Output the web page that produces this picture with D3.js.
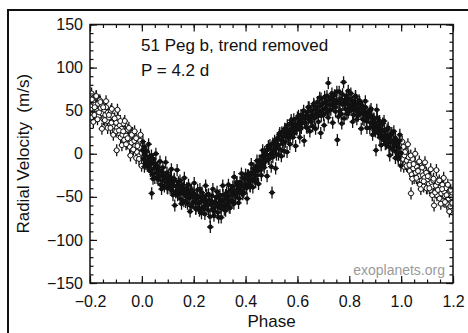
<!DOCTYPE html>
<html>
<head>
<meta charset="utf-8">
<script src="https://cdn.jsdelivr.net/npm/d3@7"></script>
<style>
  body { margin: 0; background: #fff; }
  svg { display: block; }
  text { font-family: "Liberation Sans", Arial, Helvetica, sans-serif; fill: #111; }
</style>
</head>
<body>
<svg id="chart" width="468" height="333"></svg>
<script>
// 51 Peg b radial velocities, folded on the 4.2 d orbital period
const phases = [
  0.002,0.006,0.009,0.013,0.016,0.019,0.022,0.026,0.029,0.033,0.036,0.038,0.041,0.044,0.047,0.050,0.053,0.056,0.060,0.063,
  0.066,0.070,0.073,0.077,0.080,0.084,0.087,0.090,0.094,0.097,0.100,0.104,0.107,0.110,0.114,0.117,0.120,0.127,0.124,0.131,
  0.134,0.138,0.141,0.145,0.148,0.152,0.155,0.159,0.162,0.166,0.169,0.173,0.176,0.180,0.183,0.187,0.190,0.194,0.197,0.201,
  0.204,0.208,0.211,0.215,0.218,0.222,0.225,0.229,0.232,0.236,0.239,0.243,0.246,0.250,0.253,0.257,0.260,0.264,0.267,0.271,
  0.274,0.278,0.281,0.285,0.288,0.292,0.295,0.299,0.302,0.306,0.309,0.313,0.316,0.320,0.323,0.327,0.330,0.334,0.337,0.341,
  0.344,0.348,0.351,0.355,0.358,0.362,0.365,0.369,0.372,0.376,0.379,0.383,0.386,0.390,0.393,0.397,0.400,0.404,0.407,0.411,
  0.414,0.418,0.421,0.425,0.428,0.432,0.435,0.439,0.442,0.446,0.449,0.453,0.456,0.460,0.463,0.467,0.470,0.474,0.477,0.481,
  0.484,0.488,0.491,0.495,0.498,0.502,0.505,0.509,0.512,0.516,0.519,0.523,0.526,0.530,0.533,0.537,0.540,0.544,0.547,0.551,
  0.554,0.558,0.561,0.565,0.568,0.572,0.575,0.579,0.582,0.586,0.589,0.593,0.596,0.600,0.603,0.607,0.610,0.614,0.617,0.621,
  0.624,0.628,0.631,0.635,0.638,0.642,0.645,0.649,0.652,0.656,0.659,0.663,0.666,0.670,0.673,0.677,0.680,0.684,0.687,0.690,
  0.691,0.694,0.698,0.701,0.705,0.708,0.712,0.715,0.719,0.722,0.726,0.729,0.733,0.736,0.740,0.743,0.747,0.750,0.754,0.757,
  0.761,0.764,0.768,0.771,0.775,0.778,0.782,0.785,0.789,0.792,0.796,0.799,0.803,0.806,0.810,0.813,0.817,0.820,0.824,0.827,
  0.831,0.834,0.838,0.841,0.845,0.848,0.852,0.855,0.859,0.862,0.866,0.869,0.873,0.876,0.880,0.883,0.887,0.890,0.894,0.897,
  0.901,0.903,0.904,0.908,0.911,0.915,0.918,0.922,0.925,0.929,0.932,0.936,0.939,0.943,0.946,0.950,0.953,0.957,0.960,0.964,
  0.967,0.971,0.974,0.978,0.981,0.985,0.988,0.992,0.995,0.999,
  // second observing season
  0.004,0.010,0.015,0.021,0.026,0.032,0.037,0.043,0.048,0.054,0.059,0.065,0.070,0.076,0.081,0.087,0.092,0.098,0.103,0.109,
  0.114,0.120,0.125,0.131,0.136,0.142,0.147,0.153,0.158,0.164,0.169,0.175,0.180,0.186,0.191,0.197,0.202,0.208,0.213,0.219,
  0.224,0.230,0.235,0.241,0.246,0.252,0.257,0.263,0.268,0.274,0.279,0.285,0.290,0.296,0.301,0.307,0.312,0.318,0.323,0.329,
  0.334,0.340,0.345,0.351,0.356,0.362,0.367,0.373,0.378,0.384,0.389,0.395,0.400,0.406,0.411,0.417,0.422,0.428,0.433,0.439,
  0.444,0.450,0.455,0.461,0.466,0.472,0.477,0.483,0.488,0.494,0.499,0.505,0.510,0.516,0.521,0.527,0.532,0.538,0.543,0.549,
  0.554,0.560,0.565,0.571,0.576,0.582,0.587,0.593,0.598,0.604,0.609,0.615,0.620,0.626,0.631,0.637,0.642,0.648,0.653,0.659,
  0.664,0.670,0.675,0.681,0.686,0.692,0.697,0.703,0.708,0.714,0.719,0.725,0.730,0.736,0.741,0.747,0.752,0.758,0.763,0.769,
  0.774,0.780,0.785,0.791,0.796,0.802,0.807,0.813,0.818,0.824,0.829,0.835,0.840,0.846,0.851,0.857,0.862,0.868,0.873,0.879,
  0.884,0.890,0.895,0.901,0.906,0.912,0.917,0.923,0.928,0.934,0.939,0.945,0.950,0.956,0.961,0.967,0.972,0.978,0.983,0.989,
  0.994,0.999
];
const velocities = [
  4,-6,8,-2,-12,3,-8,-15,-4,-20,-10,-46,-24,-6,-17,-28,-12,-22,-15,-30,
  -19,-26,-36,-21,-31,-25,-38,-28,-33,-22,-40,-30,-35,-27,-42,-33,-38,-60,-31,-44,
  -37,-48,-33,-42,-52,-39,-46,-36,-55,-44,-49,-40,-58,-47,-52,-43,-61,-50,-45,-56,
  -48,-63,-52,-42,-58,-66,-50,-55,-45,-62,-53,-70,-57,-48,-60,-66,-54,-85,-59,-49,
  -64,-72,-56,-61,-50,-68,-58,-52,-63,-74,-55,-48,-60,-53,-66,-45,-57,-50,-62,-43,
  -54,-47,-38,-58,-44,-50,-35,-46,-41,-52,-33,-43,-37,-28,-45,-36,-30,-40,-25,-34,
  -28,-38,-22,-31,-24,-17,-29,-20,-14,-25,-16,-8,-19,-11,-3,-14,-6,2,-9,4,
  -2,9,-6,6,0,-45,12,3,15,7,-1,18,10,22,5,16,25,12,20,29,
  14,24,33,18,28,21,36,26,31,40,24,34,29,42,33,38,28,45,35,41,
  50,36,44,31,48,40,54,43,37,50,45,58,41,52,47,60,44,55,49,24,
  64,50,58,45,66,53,61,48,82,57,63,51,70,58,55,68,54,62,16,59,
  72,50,64,35,57,83,61,52,67,58,48,63,55,70,51,60,45,57,66,50,
  58,44,62,53,47,56,40,51,45,54,38,48,42,46,50,36,44,31,40,27,
  36,4,30,42,24,33,19,29,22,35,16,26,21,12,28,17,8,21,13,24,
  5,15,9,18,2,11,-3,7,22,1,
  // second observing season
  14,-15,2,-14,11,-13,-2,-29,-12,0,-28,-20,-9,-41,-16,-32,-10,-40,-26,-40,
  -18,-48,-29,-45,-19,-42,-31,-58,-41,-28,-56,-48,-36,-67,-42,-57,-34,-64,-49,-63,
  -41,-69,-50,-64,-37,-59,-47,-73,-55,-41,-67,-57,-44,-74,-48,-61,-37,-65,-48,-60,
  -36,-63,-42,-55,-27,-47,-33,-57,-38,-23,-47,-37,-24,-52,-25,-37,-12,-39,-21,-33,
  -8,-35,-13,-25,4,-16,-1,-26,-6,10,-15,-4,11,-17,11,-1,24,-3,14,3,
  28,2,23,11,39,19,33,9,28,44,19,30,44,15,43,30,54,26,43,32,
  56,29,50,37,65,44,58,33,52,67,42,51,65,36,62,49,72,43,59,46,
  69,41,61,46,73,51,63,37,54,67,40,48,60,29,54,39,61,30,45,30,
  52,22,41,26,51,27,38,10,26,38,11,18,30,-2,22,5,26,-5,9,-6,
  15,-14
];
const errorBar = 7;           // typical 1-sigma uncertainty, m/s
const xTicks = [-0.2, 0.0, 0.2, 0.4, 0.6, 0.8, 1.0, 1.2];
const yTicks = [-150, -100, -50, 0, 50, 100, 150];
const xTickLabels = ["-0.2", "0.0", "0.2", "0.4", "0.6", "0.8", "1.0", "1.2"];
const yTickLabels = ["-150", "-100", "-50", "0", "50", "100", "150"];

const svg = d3.select("#chart");
const plot = { left: 90, right: 453, top: 24.5, bottom: 283 };

const x = d3.scaleLinear().domain([-0.2, 1.2]).range([plot.left, plot.right]);
const y = d3.scaleLinear().domain([-150, 150]).range([plot.bottom, plot.top]);

// outer frame (left and top edges)
svg.append("path")
  .attr("d", "M8,333 L8,10 L468,10")
  .attr("fill", "none").attr("stroke", "#111").attr("stroke-width", 2);

// data points; points within 0.2 of the fold edges are repeated one cycle over as open symbols
const points = phases.map((p, i) => ({ p, v: velocities[i] }));
const repeats = [];
points.forEach(d => {
  if (d.p > 0.8) repeats.push({ p: d.p - 1, v: d.v });
  if (d.p < 0.2) repeats.push({ p: d.p + 1, v: d.v });
});

svg.append("clipPath").attr("id", "plotclip")
  .append("rect").attr("x", plot.left).attr("y", plot.top)
  .attr("width", plot.right - plot.left).attr("height", plot.bottom - plot.top);

const dataG = svg.append("g").attr("clip-path", "url(#plotclip)");

function errorBars(sel, cls, data) {
  sel.selectAll("line." + cls).data(data).join("line")
    .attr("class", cls)
    .attr("x1", d => x(d.p)).attr("x2", d => x(d.p))
    .attr("y1", d => y(d.v - errorBar)).attr("y2", d => y(d.v + errorBar))
    .attr("stroke", "#111").attr("stroke-width", 1.3);
  sel.selectAll("line." + cls + "h").data(data).join("line")
    .attr("class", cls + "h")
    .attr("x1", d => x(d.p) - 3.2).attr("x2", d => x(d.p) + 3.2)
    .attr("y1", d => y(d.v)).attr("y2", d => y(d.v))
    .attr("stroke", "#111").attr("stroke-width", 1.3);
}

const openG = dataG.append("g");
errorBars(openG, "eo", repeats);
openG.selectAll("circle").data(repeats).join("circle")
  .attr("cx", d => x(d.p)).attr("cy", d => y(d.v)).attr("r", 2.5)
  .attr("fill", "#fff").attr("stroke", "#111").attr("stroke-width", 1);

const fillG = dataG.append("g");
errorBars(fillG, "ef", points);
fillG.selectAll("circle").data(points).join("circle")
  .attr("cx", d => x(d.p)).attr("cy", d => y(d.v)).attr("r", 2.4)
  .attr("fill", "#111");

// axes: inward ticks on all four sides
const xMinor = d3.range(-0.2, 1.2001, 0.05);
const yMinor = d3.range(-150, 150.001, 10);

function styleAxis(g) {
  g.select(".domain").remove();
  g.selectAll(".tick line").attr("stroke", "#111").attr("stroke-width", 1.2);
  g.selectAll("text").attr("font-size", 16).style("fill", "#111");
}

svg.append("g").attr("transform", `translate(0,${plot.bottom})`)
  .call(d3.axisBottom(x).tickValues(xMinor).tickSize(-3.5).tickFormat(""))
  .call(styleAxis);
svg.append("g").attr("transform", `translate(0,${plot.bottom})`)
  .call(d3.axisBottom(x).tickValues(xTicks).tickSize(-7).tickPadding(13)
    .tickFormat((d, i) => xTickLabels[i].replace("-", "\u2212")))
  .call(styleAxis);
svg.append("g").attr("transform", `translate(0,${plot.top})`)
  .call(d3.axisTop(x).tickValues(xMinor).tickSize(-3.5).tickFormat(""))
  .call(styleAxis);
svg.append("g").attr("transform", `translate(0,${plot.top})`)
  .call(d3.axisTop(x).tickValues(xTicks).tickSize(-7).tickFormat(""))
  .call(styleAxis);

svg.append("g").attr("transform", `translate(${plot.left},0)`)
  .call(d3.axisLeft(y).tickValues(yMinor).tickSize(-3.5).tickFormat(""))
  .call(styleAxis);
svg.append("g").attr("transform", `translate(${plot.left},0)`)
  .call(d3.axisLeft(y).tickValues(yTicks).tickSize(-7).tickPadding(7)
    .tickFormat((d, i) => yTickLabels[i].replace("-", "\u2212")))
  .call(styleAxis);
svg.append("g").attr("transform", `translate(${plot.right},0)`)
  .call(d3.axisRight(y).tickValues(yMinor).tickSize(-3.5).tickFormat(""))
  .call(styleAxis);
svg.append("g").attr("transform", `translate(${plot.right},0)`)
  .call(d3.axisRight(y).tickValues(yTicks).tickSize(-7).tickFormat(""))
  .call(styleAxis);

svg.append("rect")
  .attr("x", plot.left).attr("y", plot.top)
  .attr("width", plot.right - plot.left).attr("height", plot.bottom - plot.top)
  .attr("fill", "none").attr("stroke", "#111").attr("stroke-width", 1.5);

// titles and notes
svg.append("text").attr("x", (plot.left + plot.right) / 2).attr("y", 327)
  .attr("text-anchor", "middle").attr("font-size", 17).text("Phase");

svg.append("text")
  .attr("transform", `translate(29,${(plot.top + plot.bottom) / 2}) rotate(-90)`)
  .attr("text-anchor", "middle").attr("font-size", 17)
  .text("Radial Velocity\u00a0\u00a0(m/s)");

svg.append("text").attr("x", 141).attr("y", 51).attr("font-size", 17)
  .text("51 Peg b, trend removed");
svg.append("text").attr("x", 141).attr("y", 76).attr("font-size", 17)
  .text("P = 4.2 d");

svg.append("text").attr("x", 445).attr("y", 275).attr("text-anchor", "end")
  .attr("font-size", 14).style("fill", "#9a9a9a").text("exoplanets.org");
</script>
</body>
</html>
